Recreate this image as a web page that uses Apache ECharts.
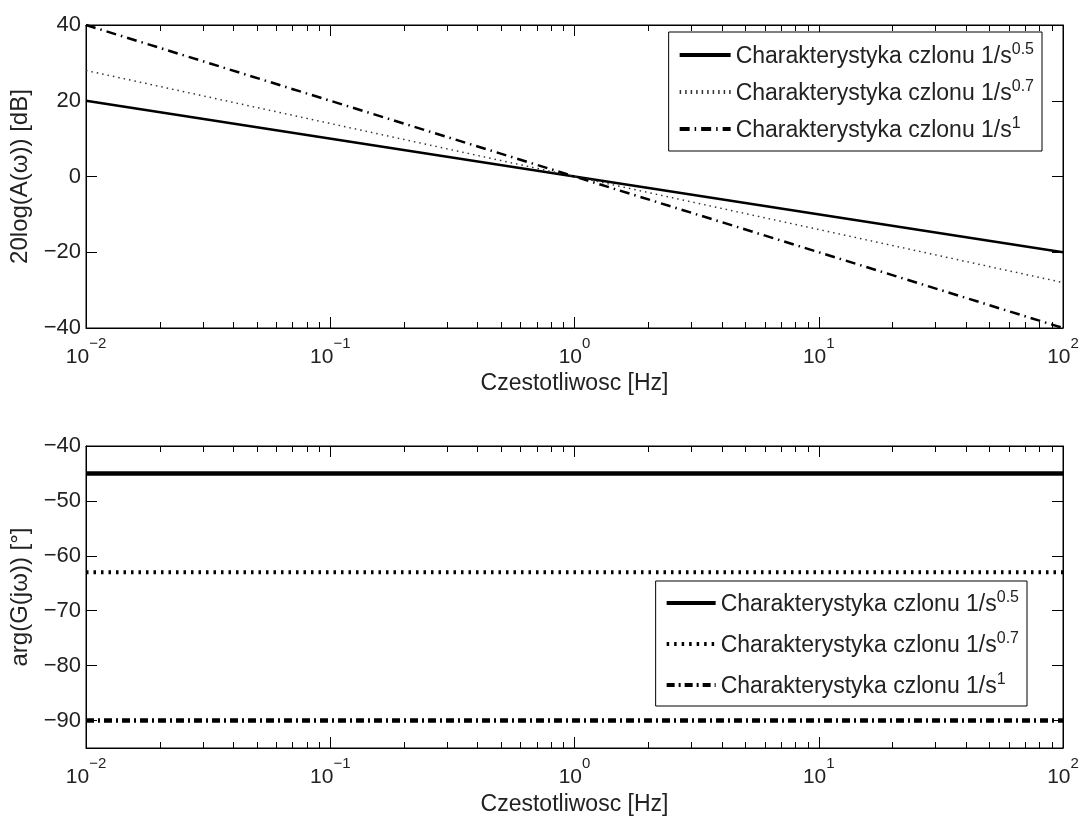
<!DOCTYPE html>
<html>
<head>
<meta charset="utf-8">
<script src="https://cdn.jsdelivr.net/npm/echarts@6/dist/echarts.min.js"></script>
<style>
  html, body { margin: 0; padding: 0; background: #fff; }
  #chart { width: 1082px; height: 817px; }
</style>
</head>
<body>
<div id="chart"></div>
<script>
// dane wykresu
var freqRange = [0.01, 100];
var xTickExp = [-2, -1, 0, 1, 2];
var minorTicks = [0.02, 0.03, 0.04, 0.05, 0.06, 0.07, 0.08, 0.09,
                  0.2, 0.3, 0.4, 0.5, 0.6, 0.7, 0.8, 0.9,
                  2, 3, 4, 5, 6, 7, 8, 9,
                  20, 30, 40, 50, 60, 70, 80, 90];

// amplituda [dB] na koncach zakresu
var magHalf = [20, -20];
var magSeven = [28, -28];
var magOne = [40, -40];

// faza [stopnie]
var phaseHalf = [-45, -45];
var phaseSeven = [-63, -63];
var phaseOne = [-90, -90];

var legendNames = ['Charakterystyka czlonu 1/s', 'Charakterystyka czlonu 1/s', 'Charakterystyka czlonu 1/s'];
var legendExp = ['0.5', '0.7', '1'];

var FONT = '"Liberation Sans", Arial, Helvetica, sans-serif';

function pts(vals) {
    return [[freqRange[0], vals[0]], [freqRange[1], vals[1]]];
}

function xLabel(v) {
    var e = Math.round(Math.log10(v));
    if (xTickExp.indexOf(e) < 0) return '';
    return '{b|10}{s|' + String(e).replace('-', '\u2212') + '}';
}

function yLabel(v) {
    if (v % 10 !== 0) return '';
    return String(v).replace('-', '\u2212');
}

var richX = {
    b: { fontSize: 21, fontFamily: FONT, color: '#222', verticalAlign: 'bottom', lineHeight: 32 },
    s: { fontSize: 15, fontFamily: FONT, color: '#222', verticalAlign: 'top', lineHeight: 15 }
};

function xAxisCfg(grid, pos, labels, name, nameGap) {
    return {
        type: 'log', logBase: 10, gridIndex: grid, position: pos,
        min: freqRange[0], max: freqRange[1],
        name: name, nameLocation: 'middle', nameGap: nameGap,
        nameTextStyle: { fontSize: 23, fontFamily: FONT, color: '#222' },
        axisLine: { show: true, onZero: false, lineStyle: { color: '#000', width: 1 } },
        axisTick: { show: true, inside: true, length: 11, lineStyle: { color: '#000', width: 1 } },
        axisLabel: { show: labels, margin: 8, formatter: xLabel, rich: richX },
        splitLine: { show: false },
        minorTick: { show: false }
    };
}

function yAxisCfg(grid, pos, labels, min, max, interval, name, nameGap) {
    var ax = {
        type: 'value', gridIndex: grid, position: pos,
        min: min, max: max,
        name: name, nameLocation: 'middle', nameGap: nameGap,
        nameTextStyle: { fontSize: 24, fontFamily: FONT, color: '#222' },
        axisLine: { show: true, onZero: false, lineStyle: { color: '#000', width: 1 } },
        axisTick: { show: true, inside: true, length: 11, lineStyle: { color: '#000', width: 1 } },
        axisLabel: { show: labels, margin: 5, formatter: yLabel, fontSize: 22, fontFamily: FONT, color: '#222' },
        splitLine: { show: false }
    };
    if (interval) ax.interval = interval;
    else ax.splitNumber = 6;
    return ax;
}

// male podzialki osi logarytmicznej (gora i dol siatki)
function minorTickSeries(grid, xIdx, yIdx, yVal) {
    return {
        type: 'custom', xAxisIndex: xIdx, yAxisIndex: yIdx, silent: true, clip: false,
        data: minorTicks.map(function (v) { return [v, yVal]; }),
        renderItem: function (params, api) {
            var px = Math.round(api.coord([api.value(0), yVal])[0]) + 0.5;
            var cs = params.coordSys;
            var st = { stroke: '#000', lineWidth: 1 };
            return {
                type: 'group',
                children: [
                    { type: 'line', shape: { x1: px, y1: cs.y + cs.height, x2: px, y2: cs.y + cs.height - 6 }, style: st },
                    { type: 'line', shape: { x1: px, y1: cs.y, x2: px, y2: cs.y + 6 }, style: st }
                ]
            };
        }
    };
}

function lineSeries(name, data, xIdx, yIdx, width, type, color) {
    return {
        name: name, type: 'line', xAxisIndex: xIdx, yAxisIndex: yIdx,
        data: data, symbol: 'none', showSymbol: false, animation: false,
        lineStyle: { color: color || '#000', width: width, type: type },
        itemStyle: { color: color || '#000' }
    };
}

function legendFmt(name) {
    var i = Number(name.slice(1));
    return '{t|' + legendNames[i] + '}{s|' + legendExp[i] + '}';
}

var richLegend = {
    t: { fontSize: 23, fontFamily: FONT, color: '#222', verticalAlign: 'bottom', lineHeight: 26 },
    s: { fontSize: 16, fontFamily: FONT, color: '#222', verticalAlign: 'top', lineHeight: 16 }
};

var chart = echarts.init(document.getElementById('chart'), null, { renderer: 'canvas' });

var option = {
    backgroundColor: '#fff',
    animation: false,
    grid: [
        { left: 86, top: 25, width: 977, height: 303, show: true, backgroundColor: '#fff', borderColor: '#000', borderWidth: 1, containLabel: false },
        { left: 86, top: 446, width: 977, height: 302, show: true, backgroundColor: '#fff', borderColor: '#000', borderWidth: 1, containLabel: false }
    ],
    xAxis: [
        xAxisCfg(0, 'bottom', true, 'Czestotliwosc [Hz]', 44),
        xAxisCfg(0, 'top', false, '', 0),
        xAxisCfg(1, 'bottom', true, 'Czestotliwosc [Hz]', 45),
        xAxisCfg(1, 'top', false, '', 0)
    ],
    yAxis: [
        yAxisCfg(0, 'left', true, -40, 40, 20, '20log(A(\u03c9)) [dB]', 51),
        yAxisCfg(0, 'right', false, -40, 40, 20, '', 0),
        yAxisCfg(1, 'left', true, -95, -40, null, 'arg(G(j\u03c9)) [\u00b0]', 48),
        yAxisCfg(1, 'right', false, -95, -40, null, '', 0)
    ],
    legend: [
        {
            data: ['a0', 'a1', 'a2'], orient: 'vertical', right: 40, top: 32,
            itemWidth: 51, itemHeight: 14, itemGap: 11, padding: [10, 8, 9, 9],
            borderColor: '#000', borderWidth: 1, backgroundColor: '#fff', borderRadius: 0,
            itemStyle: { opacity: 0 }, lineStyle: { width: 4 },
            formatter: legendFmt, textStyle: { rich: richLegend }, selectedMode: false
        },
        {
            data: ['p0', 'p1', 'p2'], orient: 'vertical', right: 55, top: 581,
            itemWidth: 49, itemHeight: 14, itemGap: 15, padding: [9, 8, 8, 9],
            borderColor: '#000', borderWidth: 1, backgroundColor: '#fff', borderRadius: 0,
            itemStyle: { opacity: 0 }, lineStyle: { width: 4 },
            formatter: legendFmt, textStyle: { rich: richLegend }, selectedMode: false
        }
    ],
    series: [
        lineSeries('a0', pts(magHalf), 0, 0, 2.5, 'solid'),
        lineSeries('a1', pts(magSeven), 0, 0, 1.5, [1.5, 4], '#333'),
        lineSeries('a2', pts(magOne), 0, 0, 2.5, [10, 5, 1.5, 5]),
        lineSeries('p0', pts(phaseHalf), 2, 2, 4.5, 'solid'),
        lineSeries('p1', pts(phaseSeven), 2, 2, 4, [2.5, 5]),
        lineSeries('p2', pts(phaseOne), 2, 2, 4.5, [8, 4, 2, 4]),
        minorTickSeries(0, 0, 0, 0),
        minorTickSeries(1, 2, 2, -60)
    ]
};

chart.setOption(option);
</script>
</body>
</html>
